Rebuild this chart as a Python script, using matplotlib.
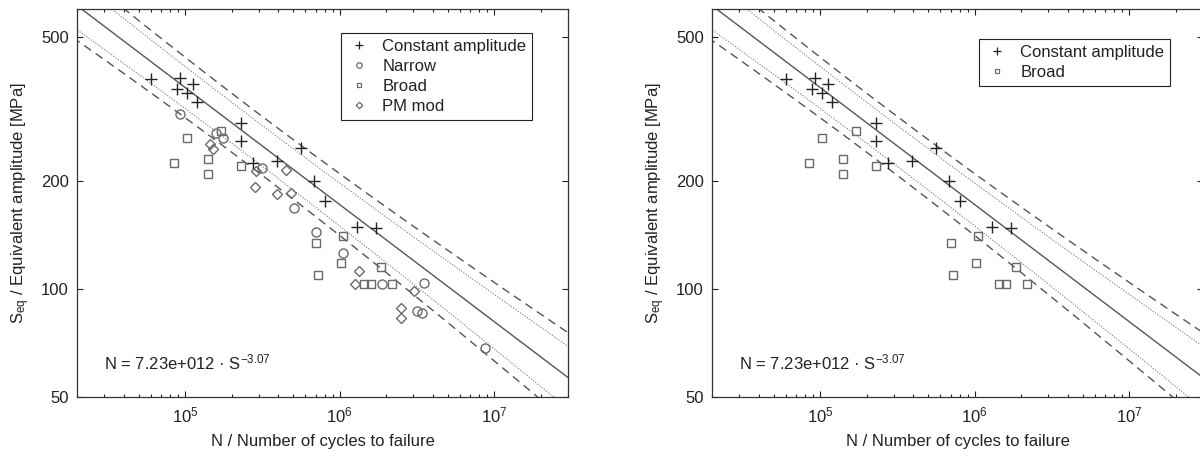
"""S-N diagram: equivalent amplitude vs cycles to failure, two panels."""
import matplotlib
matplotlib.use("Agg")
import matplotlib.pyplot as plt
import numpy as np
from matplotlib.lines import Line2D
from matplotlib.ticker import FixedLocator, LogLocator, LogFormatterMathtext, NullFormatter, NullLocator

plt.rcParams["font.family"] = ["Liberation Sans", "DejaVu Sans"]
plt.rcParams["mathtext.fontset"] = "custom"
plt.rcParams["mathtext.rm"] = "Liberation Sans"
plt.rcParams["mathtext.it"] = "Liberation Sans:italic"

# --- values ---
CA_N = [6.0e4, 9.3e4, 8.9e4, 1.13e5, 1.03e5, 1.19e5, 2.29e5, 2.29e5, 2.74e5,
        3.96e5, 5.65e5, 6.85e5, 8.07e5, 1.30e6, 1.72e6]
CA_S = [382, 385, 360, 370, 351, 330, 290, 258, 224, 227, 247, 200, 176, 149, 148]

NARROW_N = [9.3e4, 1.58e5, 1.75e5, 3.13e5, 5.09e5, 7.06e5, 1.05e6, 1.88e6,
            3.49e6, 3.15e6, 3.39e6, 8.75e6]
NARROW_S = [307, 272, 262, 217, 168, 144, 126, 103, 104, 86.8, 85.8, 68.4]

BROAD_N = [1.03e5, 1.71e5, 8.5e4, 1.41e5, 1.41e5, 2.29e5, 7.06e5, 1.05e6,
           1.02e6, 7.28e5, 1.85e6, 1.44e6, 1.60e6, 2.18e6]
BROAD_S = [262, 274, 224, 230, 208, 220, 134, 140, 118, 109, 115, 103, 103, 103]

PM_N = [1.45e5, 1.51e5, 2.86e5, 2.82e5, 3.96e5, 4.88e5, 4.47e5, 1.33e6,
        1.26e6, 3.01e6, 2.48e6, 2.48e6]
PM_S = [253, 245, 212, 192, 183, 185, 214, 112, 103, 98.7, 88.5, 83]

# fitted curve N = C * S^-m (from the annotation)
FIT_C = 7.23e12
FIT_M = 3.07
T_OUTER = 2.16   # dashed band
T_INNER = 1.5    # dotted band

Y_TICKS = [50, 100, 200, 500]
XLIM = (2e4, 3e7)
YLIM = (50, 600)

DARK = "#222222"
GREY = "#6a6a6a"
LINE = "#555555"
FS = 12


def fit_log_s(log_n):
    return (np.log10(FIT_C) - log_n) / FIT_M


def bands():
    x = np.log10(CA_N)
    y = np.log10(CA_S)
    n = len(x)
    s = np.sqrt(np.sum((y - fit_log_s(x)) ** 2) / (n - 2))
    xbar = x.mean()
    sxx = np.sum((x - xbar) ** 2)
    grid = np.linspace(np.log10(XLIM[0]) - 0.1, np.log10(XLIM[1]) + 0.1, 300)
    lev = np.sqrt(1 + 1 / n + (grid - xbar) ** 2 / sxx)
    return grid, fit_log_s(grid), s * lev


def draw_panel(ax, series):
    grid, centre, half = bands()
    N = 10 ** grid
    ax.plot(N, 10 ** centre, color=LINE, lw=1.0, zorder=2)
    for sign in (1, -1):
        ax.plot(N, 10 ** (centre + sign * T_INNER * half), color="#777777",
                lw=0.8, ls=(0, (1, 1.5)), zorder=2)
        ax.plot(N, 10 ** (centre + sign * T_OUTER * half), color=LINE,
                lw=1.0, ls=(0, (6, 4)), zorder=2)

    handles = []
    for label, xs, ys, mk, ms, col in series:
        ax.plot(xs, ys, ls="none", marker=mk, ms=ms, mfc="none", mec=col,
                mew=1.0, zorder=3)
        handles.append(Line2D([], [], ls="none", marker=mk, ms=ms * 0.6,
                              mfc="none", mec=col, mew=0.9, label=label))

    ax.set_xscale("log")
    ax.set_yscale("log")
    ax.set_xlim(*XLIM)
    ax.set_ylim(*YLIM)
    ax.xaxis.set_major_locator(LogLocator(base=10))
    ax.xaxis.set_major_formatter(LogFormatterMathtext())
    ax.xaxis.set_minor_locator(LogLocator(base=10, subs=np.arange(2, 10)))
    ax.xaxis.set_minor_formatter(NullFormatter())
    ax.yaxis.set_major_locator(FixedLocator(Y_TICKS))
    ax.set_yticklabels([str(v) for v in Y_TICKS])
    ax.yaxis.set_minor_locator(NullLocator())
    ax.tick_params(which="both", direction="in", top=True, right=True,
                   labelsize=FS, colors=DARK, width=0.8)
    ax.tick_params(which="major", length=4, pad=6)
    ax.tick_params(which="minor", length=2.5)
    for sp in ax.spines.values():
        sp.set_color("#333333")
        sp.set_linewidth(0.9)

    ax.set_xlabel("N / Number of cycles to failure", fontsize=FS, color=DARK,
                  labelpad=6)
    ax.set_ylabel(r"S$_\mathregular{eq}$ / Equivalent amplitude [MPa]",
                  fontsize=FS, color=DARK, labelpad=6)
    ax.text(0.055, 0.09, r"N = 7.23e+012 · S$^{\mathregular{-3.07}}$",
            transform=ax.transAxes, fontsize=FS, color=DARK, va="center")
    return handles


def main():
    fig = plt.figure(figsize=(12, 4.62), dpi=100)
    w, h = 491 / 1200, 388 / 462
    bottom = 65 / 462
    ax1 = fig.add_axes([77 / 1200, bottom, w, h])
    ax2 = fig.add_axes([712 / 1200, bottom, w, h])

    left = [
        ("Constant amplitude", CA_N, CA_S, "+", 9, DARK),
        ("Narrow", NARROW_N, NARROW_S, "o", 6.5, GREY),
        ("Broad", BROAD_N, BROAD_S, "s", 5.5, GREY),
        ("PM mod", PM_N, PM_S, "D", 5.5, GREY),
    ]
    right = [
        ("Constant amplitude", CA_N, CA_S, "+", 9, DARK),
        ("Broad", BROAD_N, BROAD_S, "s", 5.5, GREY),
    ]

    for ax, series, anchor in ((ax1, left, (0.927, 0.938)),
                               (ax2, right, (0.933, 0.923))):
        handles = draw_panel(ax, series)
        leg = ax.legend(handles=handles, loc="upper right", bbox_to_anchor=anchor,
                        fontsize=FS, frameon=True, fancybox=False, framealpha=1,
                        edgecolor="#222222", borderpad=0.35, labelspacing=0.3,
                        handletextpad=0.7, handlelength=1.4, borderaxespad=0)
        leg.get_frame().set_linewidth(0.8)
        for t in leg.get_texts():
            t.set_color(DARK)

    fig.savefig("out.png", dpi=100)


if __name__ == "__main__":
    main()
